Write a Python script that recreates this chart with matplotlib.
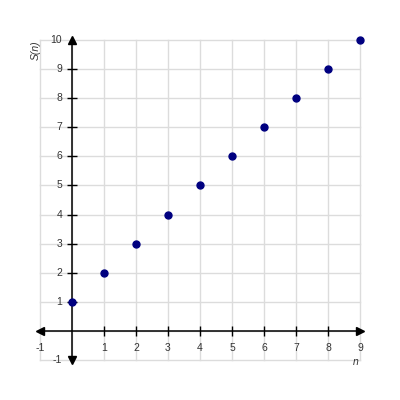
import matplotlib
matplotlib.use("Agg")
import matplotlib.pyplot as plt

n_vals = [0, 1, 2, 3, 4, 5, 6, 7, 8, 9]
s_vals = [1, 2, 3, 4, 5, 6, 7, 8, 9, 10]
x_ticks = [-1, 1, 2, 3, 4, 5, 6, 7, 8, 9]
y_ticks = [-1, 1, 2, 3, 4, 5, 6, 7, 8, 9, 10]
xmin, xmax, ymin, ymax = -1, 9, -1, 10

plt.rcParams['font.family'] = ['Liberation Sans', 'DejaVu Sans']
fig = plt.figure(figsize=(4, 4), dpi=100)
ax = fig.add_axes([0.1, 0.1, 0.8, 0.8])
ax.set_xlim(xmin, xmax)
ax.set_ylim(ymin, ymax)
for s in ax.spines.values():
    s.set_visible(False)
ax.set_xticks([])
ax.set_yticks([])

grid_c = '#dcdcdc'
for x in range(xmin, xmax + 1):
    ax.plot([x, x], [ymin, ymax], color=grid_c, lw=1, zorder=1, clip_on=False)
for y in range(ymin, ymax + 1):
    ax.plot([xmin, xmax], [y, y], color=grid_c, lw=1, zorder=1, clip_on=False)

# axes lines
ax.plot([xmin, xmax], [0, 0], color='black', lw=1.1, zorder=3, clip_on=False)
ax.plot([0, 0], [ymin, ymax], color='black', lw=1.1, zorder=3, clip_on=False)
ax.plot([xmin], [0], marker='<', color='black', ms=6, zorder=4, clip_on=False)
ax.plot([xmax], [0], marker='>', color='black', ms=6, zorder=4, clip_on=False)
ax.plot([0], [ymax], marker='^', color='black', ms=6, zorder=4, clip_on=False)
ax.plot([0], [ymin], marker='v', color='black', ms=6, zorder=4, clip_on=False)

# tick marks
tx = [t for t in x_ticks if t not in (xmin, xmax)]
ty = [t for t in y_ticks if t not in (ymin, ymax)]
ax.plot(tx, [0] * len(tx), ls='none', marker='|', ms=7, mew=1, color='black', zorder=3, clip_on=False)
ax.plot([0] * len(ty), ty, ls='none', marker='_', ms=7, mew=1, color='black', zorder=3, clip_on=False)

lab_c = '#333333'
for t in x_ticks:
    ax.annotate(str(t), (t, 0), xytext=(0, -12), textcoords='offset points',
                ha='center', va='center', fontsize=7.5, color=lab_c)
for t in y_ticks:
    ax.annotate(str(t), (0, t), xytext=(-7, 0), textcoords='offset points',
                ha='right', va='center', fontsize=7.5, color=lab_c)

ax.plot(n_vals, s_vals, ls='none', marker='o', ms=5, color='#000080', zorder=5, clip_on=False)

fig.text(0.09, 0.875, 'S(n)', rotation=90, ha='center', va='center',
         fontsize=7.5, color=lab_c, style='italic')
fig.text(0.89, 0.095, 'n', ha='center', va='center', fontsize=7.5,
         color=lab_c, style='italic')

fig.savefig('out.png', dpi=100)
